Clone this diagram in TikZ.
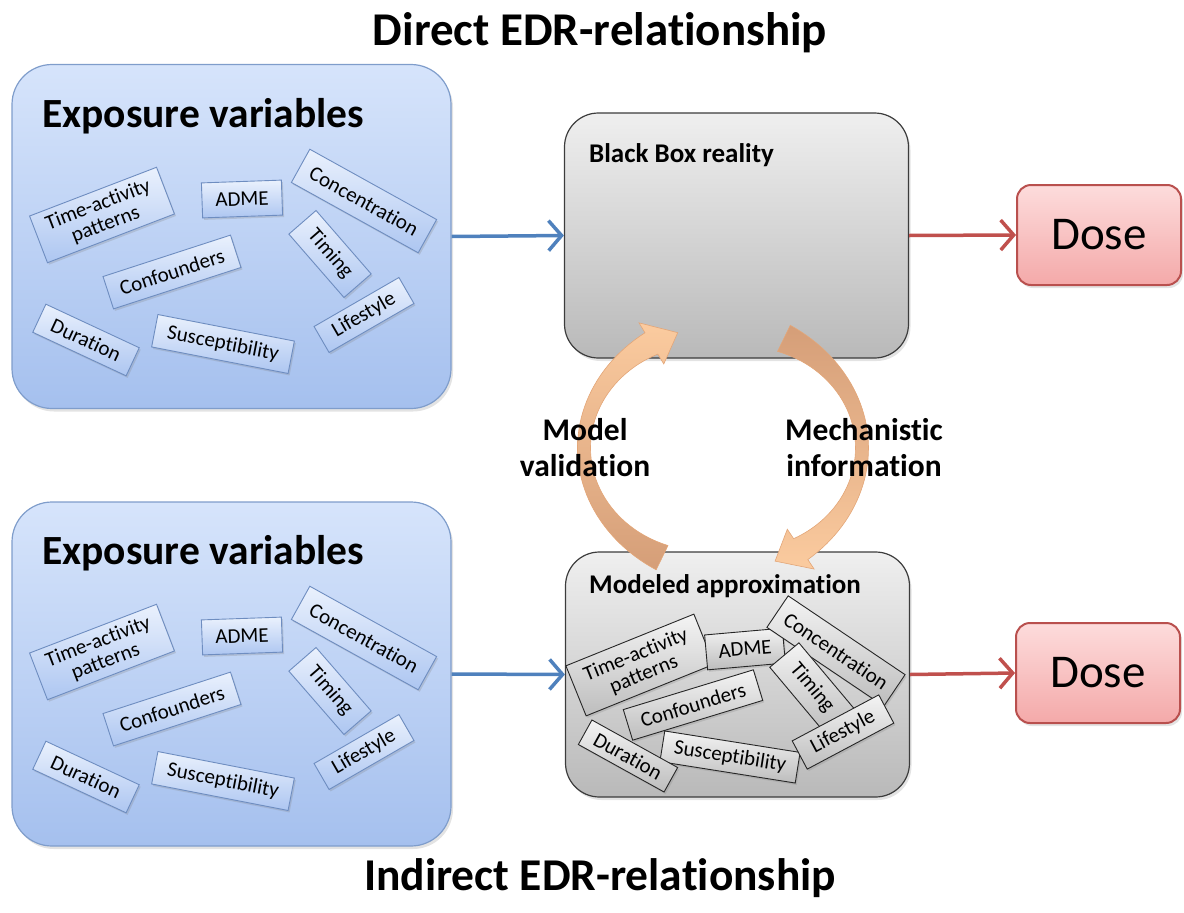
\documentclass[tikz,border=0pt]{standalone}
\usepackage{fontspec}
\setmainfont{Carlito}[Ligatures=NoCommon]
\usetikzlibrary{arrows.meta,shadows}

\definecolor{bluetop}{HTML}{D6E4FB}
\definecolor{bluebot}{HTML}{A5C0EE}
\definecolor{blueline}{HTML}{7F9DCB}
\definecolor{tagtop}{HTML}{EAF1FD}
\definecolor{tagbot}{HTML}{ADC6F1}
\definecolor{tagline}{HTML}{6E8DC0}
\definecolor{greytop}{HTML}{EFEFEF}
\definecolor{greybot}{HTML}{B9B9B9}
\definecolor{greyline}{HTML}{3C3C3C}
\definecolor{gtagtop}{HTML}{F4F4F4}
\definecolor{gtagbot}{HTML}{BDBDBD}
\definecolor{dosetop}{HTML}{FDDCDC}
\definecolor{dosebot}{HTML}{F4A9A9}
\definecolor{doseline}{HTML}{B9504E}
\definecolor{flowblue}{HTML}{4F81BD}
\definecolor{flowred}{HTML}{C0504D}
\definecolor{cyclelight}{HTML}{FBCB9F}
\definecolor{cycledark}{HTML}{D59E78}
\definecolor{cycleline}{HTML}{E3A678}

\tikzset{
  softshadow/.style={drop shadow={opacity=0.22, shadow xshift=2pt, shadow yshift=-3pt}},
  panel/.style={line width=1.2pt, inner sep=0pt, softshadow},
  expo/.style={panel, rounded corners=40pt, draw=blueline, top color=bluetop, bottom color=bluebot,
    minimum width=439pt, minimum height=344pt},
  greypanel/.style={panel, rounded corners=34pt, draw=greyline, top color=greytop, bottom color=greybot,
    minimum width=344pt, minimum height=245pt},
  dosebox/.style={panel, rounded corners=14pt, draw=doseline, line width=2pt, top color=dosetop, bottom color=dosebot,
    minimum width=164pt, minimum height=100pt, font=\fontsize{47}{50}\selectfont},
  tagbase/.style={inner sep=0pt, align=center, font=\fontsize{21}{21}\selectfont,
    drop shadow={opacity=0.25, shadow xshift=1.5pt, shadow yshift=-2pt}},
  btag/.style={tagbase, draw=tagline, line width=0.9pt, top color=tagtop, bottom color=tagbot},
  gtag/.style={tagbase, draw=black!85, line width=0.9pt, top color=gtagtop, bottom color=gtagbot},
  heading/.style={anchor=base west, inner sep=0pt, font=\fontsize{41.5}{44}\selectfont\bfseries},
  subheading/.style={anchor=base west, inner sep=0pt, font=\fontsize{27}{30}\selectfont\bfseries},
  title/.style={anchor=base, inner sep=0pt, font=\fontsize{47}{50}\selectfont\bfseries},
  cyclelabel/.style={align=center, inner sep=0pt, font=\fontsize{31.5}{36}\selectfont\bfseries},
  flowtip/.style={-{Straight Barb[length=13pt,width=30pt,line width=3.5pt]}},
  flowb/.style={draw=flowblue, line width=3.5pt, flowtip},
  flowr/.style={draw=flowred, line width=3.5pt, flowtip},
  cyclearrow/.style={draw=cycleline, line width=0.6pt}
}

\begin{document}
\begin{tikzpicture}[x=1pt, y=-1pt]
\useasboundingbox (0,0) rectangle (1184,913);

% ---------- titles ----------
\node[title] (ttop) at (600,45) {Direct EDR-relationship};
\node[title, font=\fontsize{45.5}{50}\selectfont\bfseries] (tbot) at (600,890) {Indirect EDR-relationship};

% ---------- exposure panels ----------
\node[expo] (ex1) at (231.5,236.5) {};
\node[expo] (ex2) at (231.5,674) {};
\node[heading] (h1) at (42,127) {Exposure variables};
\node[heading] (h2) at (42,564) {Exposure variables};

% tags of the upper exposure panel
\node[btag, rotate=21,  minimum width=136pt, minimum height=50pt] (a1) at (102,215) {Time-activity\\patterns};
\node[btag, rotate=2,   minimum width=80pt,  minimum height=35pt] (a2) at (242,199) {ADME};
\node[btag, rotate=-29, minimum width=145pt, minimum height=38pt] (a3) at (364,201) {Concentration};
\node[btag, rotate=-49, minimum width=84pt,  minimum height=36pt] (a4) at (330,254) {Timing};
\node[btag, rotate=18,  minimum width=134pt, minimum height=34pt] (a5) at (172,272) {Confounders};
\node[btag, rotate=-25, minimum width=103pt, minimum height=31pt] (a6) at (86,340)  {Duration};
\node[btag, rotate=-11, minimum width=139pt, minimum height=33pt] (a7) at (223,344) {Susceptibility};
\node[btag, rotate=30,  minimum width=98pt,  minimum height=30pt] (a8) at (364,315) {Lifestyle};

% tags of the lower exposure panel
\node[btag, rotate=21,  minimum width=136pt, minimum height=50pt] (b1) at (102,652) {Time-activity\\patterns};
\node[btag, rotate=2,   minimum width=80pt,  minimum height=35pt] (b2) at (242,636) {ADME};
\node[btag, rotate=-29, minimum width=145pt, minimum height=38pt] (b3) at (364,638) {Concentration};
\node[btag, rotate=-49, minimum width=84pt,  minimum height=36pt] (b4) at (330,691) {Timing};
\node[btag, rotate=18,  minimum width=134pt, minimum height=34pt] (b5) at (172,709) {Confounders};
\node[btag, rotate=-25, minimum width=103pt, minimum height=31pt] (b6) at (86,777)  {Duration};
\node[btag, rotate=-11, minimum width=139pt, minimum height=33pt] (b7) at (223,781) {Susceptibility};
\node[btag, rotate=30,  minimum width=98pt,  minimum height=30pt] (b8) at (364,752) {Lifestyle};

% ---------- grey panels ----------
\node[greypanel] (bb) at (736.5,235.5) {};
\node[subheading] (bbt) at (589,162) {Black Box reality};
\node[greypanel] (ma) at (737.5,674.5) {};
\node[subheading] (mat) at (589,593) {Modeled approximation};

% tags piled up in the modeled approximation
\node[gtag, rotate=22,  minimum width=138pt, minimum height=54pt] (m1) at (640,665) {Time-activity\\patterns};
\node[gtag, rotate=5,   minimum width=78pt,  minimum height=35pt] (m2) at (745,649) {ADME};
\node[gtag, rotate=-34, minimum width=141pt, minimum height=38pt] (m3) at (836,651) {Concentration};
\node[gtag, rotate=17,  minimum width=136pt, minimum height=32pt] (m5) at (693,705) {Confounders};
\node[gtag, rotate=-9,  minimum width=137pt, minimum height=31pt] (m7) at (730,757) {Susceptibility};
\node[gtag, rotate=-29, minimum width=98pt,  minimum height=28pt] (m6) at (628,756) {Duration};
\node[gtag, rotate=-50, minimum width=86pt,  minimum height=38pt] (m4) at (812,688) {Timing};
\node[gtag, rotate=28,  minimum width=98pt,  minimum height=32pt] (m8) at (843,732) {Lifestyle};

% ---------- dose boxes ----------
\node[dosebox] (d1) at (1099,235) {Dose};
\node[dosebox] (d2) at (1098,673) {Dose};

% ---------- flow arrows ----------
\draw[flowb] (ex1.east) -- (bb.west);
\draw[flowr] (bb.east) -- (d1.west);
\draw[flowb] (ex2.east) -- (ma.west);
\draw[flowr] (ma.east) -- (d2.west);

% ---------- validation / information cycle ----------
\coordinate (cyc) at (723,448);
% left arrow: from the model up to reality
\path[cyclearrow, top color=cyclelight, bottom color=cycledark]
  plot[domain=116:239, samples=50, variable=\t]
    ({723+(139+0.5*(13+14*((\t-180)/64)*((\t-180)/64)))*cos(\t)},
     {448+(122+0.5*(13+14*((\t-180)/64)*((\t-180)/64)))*sin(\t)})
  -- ({723+163*cos(239)}, {448+146*sin(239)})
  -- ({723+139*cos(251)}, {448+122*sin(251)})
  -- ({723+115*cos(239)}, {448+98*sin(239)})
  -- plot[domain=239:116, samples=50, variable=\t]
    ({723+(139-0.5*(13+14*((\t-180)/64)*((\t-180)/64)))*cos(\t)},
     {448+(122-0.5*(13+14*((\t-180)/64)*((\t-180)/64)))*sin(\t)})
  -- cycle;
% right arrow: from reality down to the model
\path[cyclearrow, top color=cycledark, bottom color=cyclelight]
  plot[domain=-64:56, samples=50, variable=\t]
    ({723+(139+0.5*(13+16*(\t/64)*(\t/64)))*cos(\t)},
     {448+(122+0.5*(13+16*(\t/64)*(\t/64)))*sin(\t)})
  -- ({723+163*cos(56)}, {448+146*sin(56)})
  -- ({723+139*cos(68)}, {448+122*sin(68)})
  -- ({723+115*cos(56)}, {448+98*sin(56)})
  -- plot[domain=56:-64, samples=50, variable=\t]
    ({723+(139-0.5*(13+16*(\t/64)*(\t/64)))*cos(\t)},
     {448+(122-0.5*(13+16*(\t/64)*(\t/64)))*sin(\t)})
  -- cycle;

\node[cyclelabel] (mv) at (585,448) {Model\\validation};
\node[cyclelabel] (mi) at (864,448) {Mechanistic\\information};
\end{tikzpicture}
\end{document}
